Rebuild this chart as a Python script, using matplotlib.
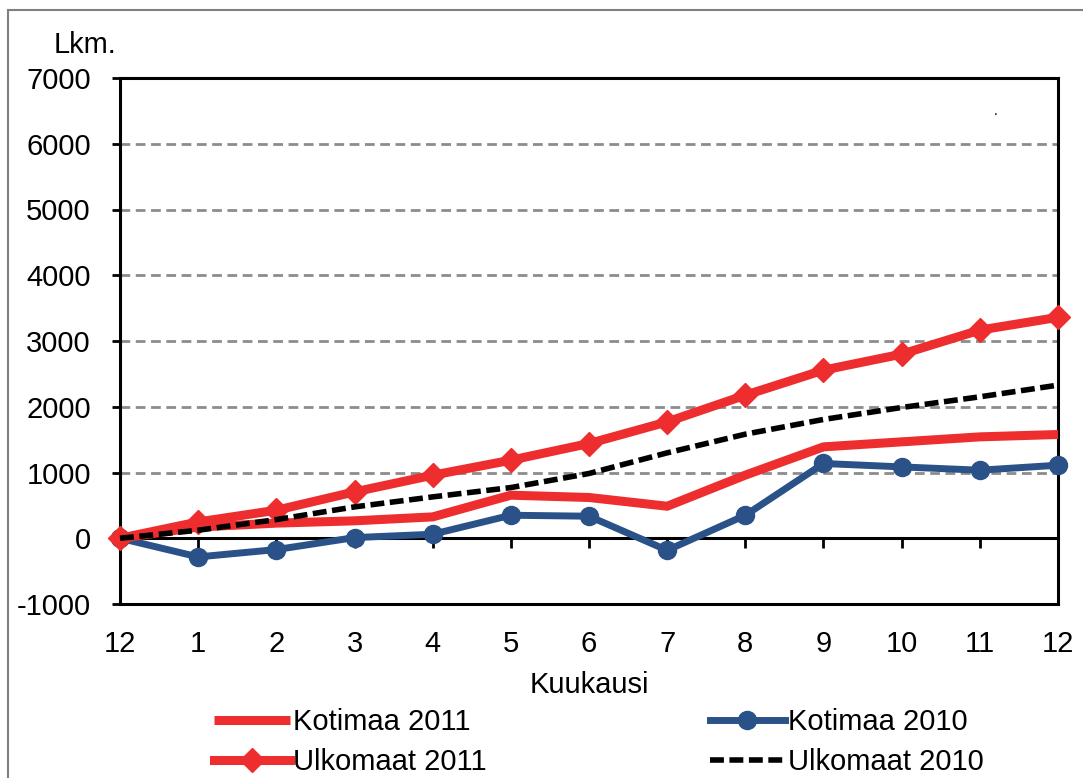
import matplotlib
matplotlib.use("Agg")
import matplotlib.pyplot as plt
from matplotlib.patches import Rectangle

plt.rcParams['font.family'] = ['Liberation Sans', 'DejaVu Sans']
plt.rcParams['axes.unicode_minus'] = False

# month labels (december of previous year, then 1..12)
months = ['12', '1', '2', '3', '4', '5', '6', '7', '8', '9', '10', '11', '12']

# cumulative changes
kotimaa_2011 = [0, 170, 230, 265, 325, 655, 620, 487, 960, 1390, 1466, 1542, 1578]
kotimaa_2010 = [0, -284, -172, 10, 61, 350, 335, -183, 350, 1137, 1085, 1035, 1111]
ulkomaat_2011 = [0, 248, 426, 705, 959, 1187, 1441, 1770, 2176, 2557, 2800, 3166, 3360]
ulkomaat_2010 = [0, 122, 284, 477, 629, 771, 985, 1299, 1583, 1807, 1989, 2151, 2329]

RED = '#ee2e2e'
BLUE = '#2a5289'
FS = 21

fig = plt.figure(figsize=(10.83, 7.78), dpi=100)
ax = fig.add_axes([120 / 1083, 1 - 604 / 778, 938 / 1083, 526 / 778])

x = list(range(len(months)))

l_ko10, = ax.plot(x, kotimaa_2010, color=BLUE, lw=5, marker='o', ms=13,
                  label='Kotimaa 2010', zorder=3, clip_on=False)
l_ko11, = ax.plot(x, kotimaa_2011, color=RED, lw=6.5, solid_capstyle='butt',
                  label='Kotimaa 2011', zorder=4, clip_on=False)
l_ul11, = ax.plot(x, ulkomaat_2011, color=RED, lw=6.5, marker='D', ms=12,
                  label='Ulkomaat 2011', zorder=5, clip_on=False)
l_ul10, = ax.plot(x, ulkomaat_2010, color='black', lw=4, ls=(0, (2.5, 1.0)),
                  label='Ulkomaat 2010', zorder=6, clip_on=False)

ax.set_xlim(0, 12)
ax.set_ylim(-1000, 7000)
ax.set_yticks(range(-1000, 7001, 1000))
ax.set_xticks(x)
ax.set_xticklabels(months)

ax.yaxis.grid(True, color='#8c8c8c', lw=2, ls=(0, (3.5, 2)))
ax.set_axisbelow(True)
ax.axhline(0, color='black', lw=2.2, zorder=2.5)

for s in ax.spines.values():
    s.set_linewidth(2.2)
    s.set_color('black')

ax.tick_params(axis='y', direction='out', length=6, width=2, pad=15, labelsize=FS)
ax.tick_params(axis='x', length=0, pad=19, labelsize=FS)

# month ticks sit on the zero line
frac0 = (0 - (-1000)) / 8000
sec = ax.secondary_xaxis(frac0)
sec.set_xticks(x)
sec.set_xticklabels([])
sec.tick_params(direction='out', length=7, width=2)
for s in sec.spines.values():
    s.set_visible(False)

ax.set_xlabel('Kuukausi', fontsize=FS, labelpad=9)
fig.text(85 / 1083, 1 - 45 / 778, 'Lkm.', fontsize=FS, ha='center', va='center')
ax.text(11.2, 6390, '.', fontsize=10, ha='center', va='bottom')

fig.legend([l_ko11, l_ul11, l_ko10, l_ul10],
           ['Kotimaa 2011', 'Ulkomaat 2011', 'Kotimaa 2010', 'Ulkomaat 2010'],
           ncol=2, loc='upper left', bbox_to_anchor=(214 / 1083, 1 - 708 / 778),
           frameon=False, fontsize=FS, handlelength=2.6, handletextpad=0.1,
           columnspacing=7.65, labelspacing=0.42, borderpad=0, borderaxespad=0)

# outer frame of the chart area
fig.patches.append(Rectangle((8 / 1083, -0.2), 1.2, 1.2 - 10 / 778,
                             transform=fig.transFigure, fill=False,
                             edgecolor='#808080', lw=1.5))

fig.savefig('out.png', dpi=100)
